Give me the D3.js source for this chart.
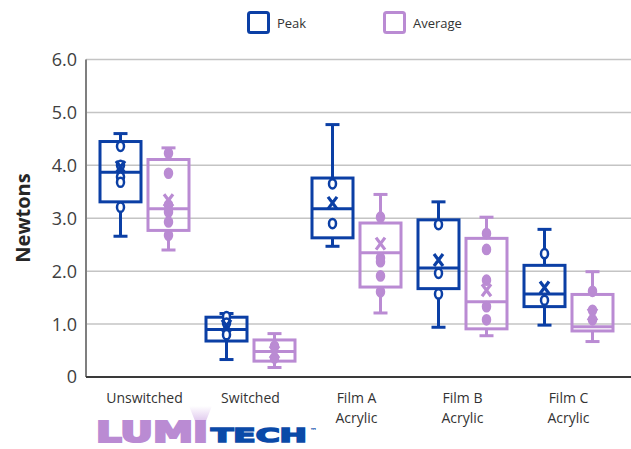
<!DOCTYPE html>
<html>
<head>
<meta charset="utf-8">
<script src="https://cdn.jsdelivr.net/npm/d3@7"></script>
<style>
  body { margin: 0; background: #fff; }
  svg { display: block; }
</style>
</head>
<body>
<div id="chart"></div>
<script>
// categories and series
const categories = ["Unswitched", "Switched", "Film A\nAcrylic", "Film B\nAcrylic", "Film C\nAcrylic"];
const seriesNames = ["Peak", "Average"];

// box statistics per category (Newtons)
const peakMin    = [2.66, 0.33, 2.47, 0.94, 0.98];
const peakQ1     = [3.31, 0.68, 2.63, 1.67, 1.33];
const peakMedian = [3.87, 0.90, 3.18, 2.06, 1.57];
const peakQ3     = [4.45, 1.13, 3.76, 2.97, 2.11];
const peakMax    = [4.60, 1.20, 4.77, 3.31, 2.79];
const peakMean   = [3.97, 0.97, 3.29, 2.21, 1.69];
const peakPoints = [
  [4.36, 4.00, 3.78, 3.68, 3.21],
  [1.14, 1.02, 0.80],
  [3.65, 2.90],
  [2.88, 1.96, 1.57],
  [2.33, 1.45]
];

const avgMin    = [2.40, 0.18, 1.21, 0.78, 0.67];
const avgQ1     = [2.77, 0.30, 1.70, 0.91, 0.87];
const avgMedian = [3.18, 0.48, 2.35, 1.42, 0.95];
const avgQ3     = [4.11, 0.70, 2.91, 2.62, 1.56];
const avgMax    = [4.33, 0.82, 3.45, 3.02, 1.99];
const avgMean   = [3.34, 0.47, 2.52, 1.64, 1.18];
const avgPoints = [
  [4.23, 3.85, 3.25, 3.12, 2.93, 2.68],
  [0.58, 0.36],
  [3.02, 2.25, 2.18, 1.91, 1.61],
  [2.71, 2.41, 1.83, 1.33, 1.08],
  [1.62, 1.26, 1.08]
];

const yTicks = [0, 1, 2, 3, 4, 5, 6];
const yTickLabels = ["0", "1.0", "2.0", "3.0", "4.0", "5.0", "6.0"];

const colors = { Peak: "#0b3fa5", Average: "#ba8bd3" };

const series = [
  { name: "Peak", min: peakMin, q1: peakQ1, median: peakMedian, q3: peakQ3, max: peakMax, mean: peakMean, points: peakPoints, fill: "#fff" },
  { name: "Average", min: avgMin, q1: avgQ1, median: avgMedian, q3: avgQ3, max: avgMax, mean: avgMean, points: avgPoints, fill: colors.Average }
];

const W = 631, H = 449;
const fontFamily = "'Open Sans', sans-serif";

const svg = d3.select("#chart").append("svg")
  .attr("width", W)
  .attr("height", H);

const y = d3.scaleLinear().domain([0, 6]).range([377, 59.5]);
const x = d3.scaleBand().domain(categories).range([91.5, 621.5]);
const xInner = d3.scaleBand().domain(seriesNames)
  .range([7, x.bandwidth() - 7])
  .paddingInner(0.0833);

// gridlines
svg.append("g")
  .selectAll("line")
  .data(yTicks.filter(d => d > 0))
  .join("line")
  .attr("x1", 86).attr("x2", W)
  .attr("y1", d => y(d)).attr("y2", d => y(d))
  .attr("stroke", "#c4c4c4")
  .attr("stroke-width", 1.5);

// left axis line
svg.append("line")
  .attr("x1", 86).attr("x2", 86)
  .attr("y1", y(6)).attr("y2", y(0))
  .attr("stroke", "#7f7f7f").attr("stroke-width", 2);

// y tick labels
svg.append("g")
  .selectAll("text")
  .data(yTicks)
  .join("text")
  .attr("x", 77)
  .attr("y", d => y(d))
  .attr("dy", "0.36em")
  .attr("text-anchor", "end")
  .style("font-family", fontFamily)
  .style("font-size", "18px")
  .style("fill", "#404040")
  .text((d, i) => yTickLabels[i]);

// y title
svg.append("text")
  .attr("transform", "translate(30, 218) rotate(-90)")
  .attr("text-anchor", "middle")
  .style("font-family", fontFamily)
  .style("font-size", "20px")
  .style("font-weight", "bold")
  .style("fill", "#262626")
  .text("Newtons");

// boxes
series.forEach(s => {
  const col = colors[s.name];
  const groups = svg.append("g")
    .selectAll("g")
    .data(categories)
    .join("g")
    .attr("transform", d => `translate(${x(d) + xInner(s.name)}, 0)`);

  const bw = xInner.bandwidth();
  const cx = bw / 2;

  // whiskers
  groups.append("line")
    .attr("x1", cx).attr("x2", cx)
    .attr("y1", (d, i) => y(s.max[i])).attr("y2", (d, i) => y(s.q3[i]))
    .attr("stroke", col).attr("stroke-width", 3);
  groups.append("line")
    .attr("x1", cx).attr("x2", cx)
    .attr("y1", (d, i) => y(s.q1[i])).attr("y2", (d, i) => y(s.min[i]))
    .attr("stroke", col).attr("stroke-width", 3);
  groups.append("line")
    .attr("x1", cx - 7).attr("x2", cx + 7)
    .attr("y1", (d, i) => y(s.max[i])).attr("y2", (d, i) => y(s.max[i]))
    .attr("stroke", col).attr("stroke-width", 3);
  groups.append("line")
    .attr("x1", cx - 7).attr("x2", cx + 7)
    .attr("y1", (d, i) => y(s.min[i])).attr("y2", (d, i) => y(s.min[i]))
    .attr("stroke", col).attr("stroke-width", 3);

  // box
  groups.append("rect")
    .attr("x", 1.5)
    .attr("width", bw - 3)
    .attr("y", (d, i) => y(s.q3[i]))
    .attr("height", (d, i) => y(s.q1[i]) - y(s.q3[i]))
    .attr("fill", "none")
    .attr("stroke", col).attr("stroke-width", 3);

  // median
  groups.append("line")
    .attr("x1", 1.5).attr("x2", bw - 1.5)
    .attr("y1", (d, i) => y(s.median[i])).attr("y2", (d, i) => y(s.median[i]))
    .attr("stroke", col).attr("stroke-width", 3);

  // inner points
  groups.each(function(d, i) {
    d3.select(this).selectAll("ellipse")
      .data(s.points[i])
      .join("ellipse")
      .attr("cx", cx)
      .attr("cy", v => y(v))
      .attr("rx", 3.5)
      .attr("ry", 4.6)
      .attr("fill", s.fill)
      .attr("stroke", col)
      .attr("stroke-width", 2.5);
  });

  // mean markers (X)
  const mean = groups.append("g")
    .attr("transform", (d, i) => `translate(${cx}, ${y(s.mean[i])})`);
  mean.append("path")
    .attr("d", "M-4.5,-6L4.5,6M4.5,-6L-4.5,6")
    .attr("stroke", col)
    .attr("stroke-width", 3.2)
    .attr("fill", "none");
});

// bottom axis line
svg.append("line")
  .attr("x1", 86).attr("x2", W)
  .attr("y1", y(0)).attr("y2", y(0))
  .attr("stroke", "#3a3a3a").attr("stroke-width", 2);

// category labels
svg.append("g")
  .selectAll("text")
  .data(categories)
  .join("text")
  .attr("x", d => x(d) + x.bandwidth() / 2)
  .attr("y", 403)
  .attr("text-anchor", "middle")
  .style("font-family", fontFamily)
  .style("font-size", "14px")
  .style("fill", "#333")
  .selectAll("tspan")
  .data(d => d.split("\n"))
  .join("tspan")
  .attr("x", function() { return d3.select(this.parentNode).attr("x"); })
  .attr("dy", (d, i) => i === 0 ? 0 : 20)
  .text(d => d);

// legend
const legendX = [247, 383];
const legend = svg.append("g")
  .selectAll("g")
  .data(seriesNames)
  .join("g")
  .attr("transform", (d, i) => `translate(${legendX[i]}, 11)`);
legend.append("rect")
  .attr("x", 1.5).attr("y", 1.5)
  .attr("width", 20).attr("height", 20)
  .attr("rx", 2)
  .attr("fill", "#fff")
  .attr("stroke", d => colors[d])
  .attr("stroke-width", 3);
legend.append("text")
  .attr("x", 30)
  .attr("y", 17)
  .style("font-family", fontFamily)
  .style("font-size", "13px")
  .style("fill", "#333")
  .text(d => d);

// logo
const defs = svg.append("defs");
const glow = defs.append("linearGradient")
  .attr("id", "glow").attr("x1", 0).attr("y1", 0).attr("x2", 0).attr("y2", 1);
glow.append("stop").attr("offset", "0%").attr("stop-color", "#fff");
glow.append("stop").attr("offset", "100%").attr("stop-color", "#e0c9ee");
svg.append("path")
  .attr("d", "M189,406L212,406L206,421L195,421Z")
  .attr("fill", "url(#glow)");

svg.append("text")
  .attr("x", 96)
  .attr("y", 442)
  .attr("textLength", 112)
  .attr("lengthAdjust", "spacingAndGlyphs")
  .style("font-family", "'DejaVu Sans', sans-serif")
  .style("font-weight", "bold")
  .style("font-size", "28px")
  .style("fill", colors.Average)
  .style("stroke", colors.Average)
  .style("stroke-width", 2.2)
  .text("LUMI");
svg.append("text")
  .attr("x", 211)
  .attr("y", 442)
  .attr("textLength", 96)
  .attr("lengthAdjust", "spacingAndGlyphs")
  .style("font-family", "'DejaVu Sans', sans-serif")
  .style("font-weight", "bold")
  .style("font-size", "20px")
  .style("fill", "#0a4aa8")
  .style("stroke", "#0a4aa8")
  .style("stroke-width", 1.6)
  .text("TECH");
svg.append("text")
  .attr("x", 310)
  .attr("y", 433)
  .style("font-family", "'DejaVu Sans', sans-serif")
  .style("font-weight", "bold")
  .style("font-size", "7px")
  .style("fill", "#0a4aa8")
  .text("™");
</script>
</body>
</html>
